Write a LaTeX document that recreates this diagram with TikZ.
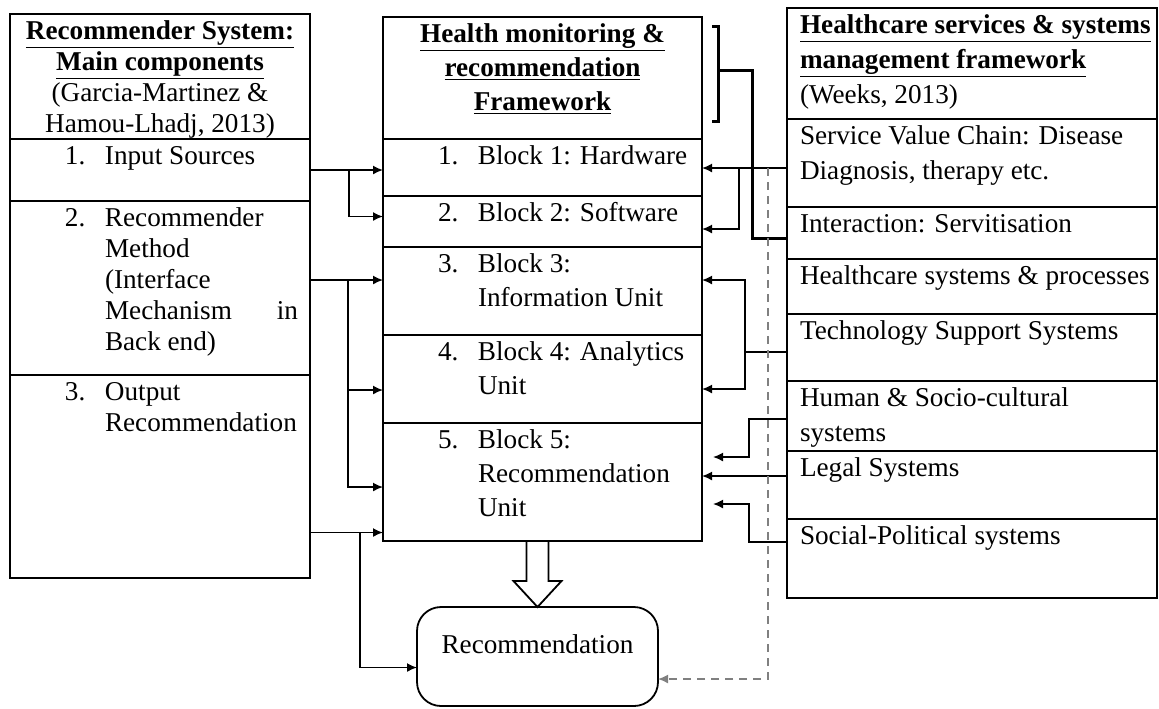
\documentclass[tikz,border=0pt]{standalone}
\usepackage{fontspec}
\setmainfont{Liberation Serif}
\usetikzlibrary{arrows.meta,calc}
\newcommand{\cellbox}[3]{\parbox[c][#2][t]{#1}{#3}}
\newcommand{\numline}[3]{\hspace*{27.5pt}\makebox[20pt][l]{#1}\parbox[t]{#2}{\rule{0pt}{12.5pt}#3}}
\newcommand{\padline}[1]{\hspace*{6.5pt}\parbox[t]{177pt}{\rule{0pt}{12.5pt}#1}}
\newcommand{\ulb}[1]{\underline{\textbf{#1}}}
\begin{document}
\begin{tikzpicture}[x=0.5pt,y=-0.5pt,
	cell/.style={draw,line width=0.9pt,inner sep=0pt,outer sep=0pt,anchor=north west,font=\fontsize{13.6}{17}\selectfont},
	lcell/.style={cell,font=\fontsize{13.6}{15.6}\selectfont},
	rcell/.style={cell,font=\fontsize{13.6}{17.5}\selectfont},
	conn/.style={line width=0.8pt,-{Latex[length=5pt,width=4.5pt]}},
	thickline/.style={line width=1.5pt},
	dashline/.style={conn,gray,dash pattern=on 4pt off 3pt}]
		\useasboundingbox (0,0) rectangle (1159,708);
		%%%
		\node[lcell] (lhead) at (10,14) {\cellbox{150pt}{62.5pt}{\centering\rule{0pt}{12.5pt}\ulb{Recommender System:}\\ \ulb{Main components}\\ (Garcia-Martinez \&\\ Hamou-Lhadj, 2013)}};
		\node[lcell] (lin) at (10,139) {\cellbox{150pt}{31pt}{\numline{1.}{96.5pt}{Input Sources}}};
		\node[lcell] (lmeth) at (10,201) {\cellbox{150pt}{87pt}{\numline{2.}{96.5pt}{Recommender\\ Method\\ (Interface\\ Mechanism\hfill in\\ Back end)}}};
		\node[lcell] (lout) at (10,375) {\cellbox{150pt}{101.5pt}{\numline{3.}{96.5pt}{Output\\ Recommendation}}};
		%%%
		\node[cell] (mhead) at (383,17) {\cellbox{159.5pt}{61pt}{\centering\rule{0pt}{12.5pt}\ulb{Health monitoring \&}\\ \ulb{recommendation}\\ \ulb{Framework}}};
		\node[cell] (blk1) at (383,139) {\cellbox{159.5pt}{28.5pt}{\numline{1.}{108pt}{Block 1: Hardware}}};
		\node[cell] (blk2) at (383,196) {\cellbox{159.5pt}{25.5pt}{\numline{2.}{108pt}{Block 2: Software}}};
		\node[cell] (blk3) at (383,247) {\cellbox{159.5pt}{44pt}{\numline{3.}{108pt}{Block 3:\\ Information Unit}}};
		\node[cell] (blk4) at (383,335) {\cellbox{159.5pt}{44pt}{\numline{4.}{108pt}{Block 4: Analytics\\ Unit}}};
		\node[cell] (blk5) at (383,423) {\cellbox{159.5pt}{59pt}{\numline{5.}{108pt}{Block 5:\\ Recommendation\\ Unit}}};
		%%%
		\node[rcell] (rhead) at (787,8) {\cellbox{185pt}{55.5pt}{\padline{\ulb{Healthcare services \& systems}\\ \ulb{management framework}\\ (Weeks, 2013)}}};
		\node[rcell] (rchain) at (787,119) {\cellbox{185pt}{44pt}{\padline{Service Value Chain: Disease\\ Diagnosis, therapy etc.}}};
		\node[rcell] (rinter) at (787,207) {\cellbox{185pt}{26pt}{\padline{Interaction: Servitisation}}};
		\node[rcell] (rproc) at (787,259) {\cellbox{185pt}{27.5pt}{\padline{Healthcare systems \& processes}}};
		\node[rcell] (rtech) at (787,314) {\cellbox{185pt}{33.5pt}{\padline{Technology Support Systems}}};
		\node[rcell] (rhuman) at (787,381) {\cellbox{185pt}{35pt}{\padline{Human \& Socio-cultural\\ systems}}};
		\node[rcell] (rlegal) at (787,451) {\cellbox{185pt}{34pt}{\padline{Legal Systems}}};
		\node[rcell] (rsocial) at (787,519) {\cellbox{185pt}{39.5pt}{\padline{Social-Political systems}}};
		%%%
		\node[cell,rounded corners=12pt] (rec) at (417,607) {\cellbox{120.5pt}{49.5pt}{\centering\rule{0pt}{23pt}Recommendation}};
		\draw[line width=0.9pt,fill=white] ($(rec.north |- blk5.south)+(-11,0)$) -- ++(0,40) -- ++(-13,0) -- (rec.north) -- ++(24,-26) -- ++(-13,0) -- ++(0,-40) -- cycle;
		%%%
		\draw[conn] (lin.east) -- (lin.east -| blk1.west);
		\draw[conn] ($(lin.east)+(39,0)$) |- ($(blk2.west)+(0,-5)$);
		\draw[conn] ($(lmeth.east)+(0,-8)$) coordinate (m0) -- (m0 -| blk3.west);
		\draw[conn] ($(m0)+(38,0)$) |- ($(blk4.west)+(0,11)$);
		\draw[conn] ($(m0)+(38,0)$) |- ($(blk5.west)+(0,5)$);
		\draw[conn] ($(lout.east)+(0,56)$) coordinate (o0) -- (o0 -| blk5.west);
		\draw[conn] ($(o0)+(50,0)$) |- ($(rec.west)+(0,11)$);
		%%%
		\draw[conn] ($(rchain.west)+(0,5)$) coordinate (c0) -- (c0 -| blk1.east);
		\draw[conn] ($(c0)+(-48,0)$) |- ($(blk2.east)+(0,7.5)$);
		\draw[thickline] ($(mhead.north east)+(10,9)$) -- ++(6,0) -- ($(mhead.south east)+(16,-18)$) -- ++(-6,0);
		\draw[thickline] ($(mhead.east)+(16,-8)$) -- ++(34,0) |- ($(rinter.west)+(0,5)$);
		\draw[conn] ($(rtech.west)+(0,4.5)$) -- ++(-42,0) coordinate (t0) |- ($(blk4.east)+(0,10)$);
		\draw[conn] (t0) |- ($(blk3.east)+(0,-11)$);
		\draw[conn] ($(rhuman.west)+(0,3)$) -- ++(-38,0) |- ($(blk5.east)+(11,-25)$);
		\draw[conn] ($(rlegal.west)+(0,-9)$) coordinate (g0) -- (g0 -| blk5.east);
		\draw[conn] ($(rsocial.west)+(0,-16.5)$) -- ++(-38,0) |- ($(blk5.east)+(11,22)$);
		\draw[dashline] ($(c0)+(-19,0)$) |- ($(rec.east)+(0,22.5)$);
	\end{tikzpicture}
\end{document}
